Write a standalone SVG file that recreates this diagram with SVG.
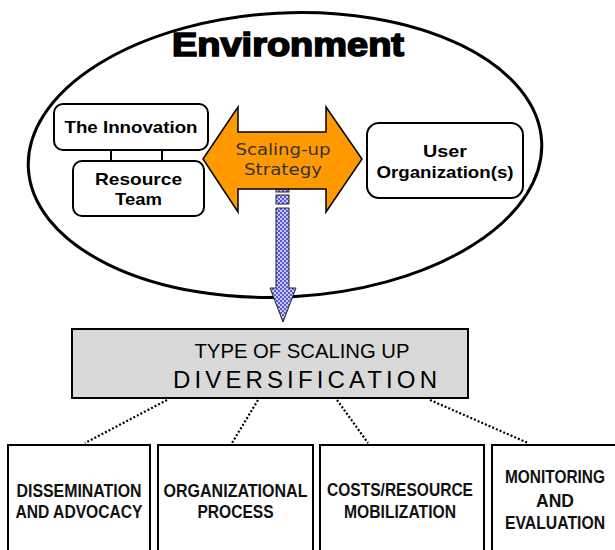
<svg xmlns="http://www.w3.org/2000/svg" width="615" height="550" viewBox="0 0 615 550">
<style>
.box{fill:#fff;stroke:#000;stroke-width:2}
.t1{font-family:"Liberation Sans",Arial,sans-serif;font-weight:bold;font-size:17px;fill:#000;text-anchor:middle}
.t2{font-family:"DejaVu Sans",Verdana,sans-serif;font-size:16px;fill:#333;text-anchor:middle}
.t3{font-family:"Liberation Sans",Arial,sans-serif;font-weight:bold;font-size:18px;fill:#111;text-anchor:middle}
.dot{stroke:#000;stroke-width:2.2;stroke-dasharray:2 2;fill:none}
</style>
<defs>
<pattern id="chk" width="4" height="4" patternUnits="userSpaceOnUse">
<rect width="4" height="4" fill="#c8c8f8"/>
<rect width="2" height="2" fill="#5a5ad0"/>
<rect x="2" y="2" width="2" height="2" fill="#5a5ad0"/>
</pattern>
</defs>
<g id="environment">
<ellipse cx="285" cy="155" rx="257" ry="142" transform="rotate(-3 285 155)" fill="#fff" stroke="#000" stroke-width="3"/>
<text x="288" y="56" font-family="Liberation Sans,Arial,sans-serif" font-weight="900" font-size="33" stroke="#000" stroke-width="1.6" text-anchor="middle" textLength="232" lengthAdjust="spacingAndGlyphs">Environment</text>
</g>
<g id="connectors">
<line x1="111" y1="150" x2="111" y2="161" stroke="#000" stroke-width="2"/>
<line x1="162" y1="150" x2="162" y2="161" stroke="#000" stroke-width="2"/>
<line class="dot" x1="167" y1="400" x2="85" y2="443"/>
<line class="dot" x1="258" y1="400" x2="232" y2="443"/>
<line class="dot" x1="337" y1="400" x2="368" y2="443"/>
<line class="dot" x1="430" y1="400" x2="528" y2="443"/>
</g>
<g id="blue-arrow" stroke="#222" stroke-width="1">
<rect x="276" y="188" width="13" height="4" fill="url(#chk)"/>
<rect x="276" y="195" width="13" height="9" fill="url(#chk)"/>
<path d="M276,208 L289,208 L289,288 L296,288 L283,322 L270,288 L276,288 Z" fill="url(#chk)"/>
</g>
<g id="innovation">
<rect class="box" x="54" y="104" width="154" height="46" rx="9"/>
<text class="t1" x="131" y="133" textLength="133" lengthAdjust="spacingAndGlyphs">The Innovation</text>
</g>
<g id="resource-team">
<rect class="box" x="73" y="161" width="131" height="55" rx="9"/>
<text class="t1" x="138.5" y="185" textLength="87" lengthAdjust="spacingAndGlyphs">Resource</text>
<text class="t1" x="138.5" y="205" textLength="47" lengthAdjust="spacingAndGlyphs">Team</text>
</g>
<g id="strategy">
<path d="M203,159 L238,107 L238,132 L326,132 L326,107 L362,159 L326,212 L326,189 L238,189 L238,212 Z" fill="#ff9900" stroke="#000" stroke-width="1.5"/>
<text class="t2" x="283" y="155" textLength="95" lengthAdjust="spacingAndGlyphs">Scaling-up</text>
<text class="t2" x="283" y="175" textLength="78" lengthAdjust="spacingAndGlyphs">Strategy</text>
</g>
<g id="user-org">
<rect class="box" x="367" y="123" width="156" height="75" rx="12"/>
<text class="t1" x="445" y="157" textLength="44" lengthAdjust="spacingAndGlyphs">User</text>
<text class="t1" x="445" y="178" textLength="137" lengthAdjust="spacingAndGlyphs">Organization(s)</text>
</g>
<g id="type">
<rect x="72" y="329" width="396" height="69" fill="#d9d9d9" stroke="#000" stroke-width="2"/>
<text x="302" y="358" font-family="Liberation Sans,Arial,sans-serif" font-size="21" text-anchor="middle" textLength="215" lengthAdjust="spacingAndGlyphs">TYPE OF SCALING UP</text>
<text x="305" y="388" font-family="Liberation Sans,Arial,sans-serif" font-size="24" text-anchor="middle" textLength="264" lengthAdjust="spacing">DIVERSIFICATION</text>
</g>
<g id="dissemination">
<rect class="box" x="8" y="445" width="142" height="110"/>
<text class="t3" x="79" y="497" textLength="125" lengthAdjust="spacingAndGlyphs">DISSEMINATION</text>
<text class="t3" x="79" y="518" textLength="127" lengthAdjust="spacingAndGlyphs">AND ADVOCACY</text>
</g>
<g id="organizational">
<rect class="box" x="158" y="445" width="155" height="110"/>
<text class="t3" x="235.5" y="497" textLength="144" lengthAdjust="spacingAndGlyphs">ORGANIZATIONAL</text>
<text class="t3" x="235.5" y="518" textLength="76" lengthAdjust="spacingAndGlyphs">PROCESS</text>
</g>
<g id="costs">
<rect class="box" x="320" y="445" width="164" height="110"/>
<text class="t3" x="400" y="496" textLength="146" lengthAdjust="spacingAndGlyphs">COSTS/RESOURCE</text>
<text class="t3" x="400" y="518" textLength="112" lengthAdjust="spacingAndGlyphs">MOBILIZATION</text>
</g>
<g id="monitoring">
<rect class="box" x="492" y="445" width="130" height="110"/>
<text class="t3" x="555" y="483" textLength="100" lengthAdjust="spacingAndGlyphs">MONITORING</text>
<text class="t3" x="555" y="507" textLength="38" lengthAdjust="spacingAndGlyphs">AND</text>
<text class="t3" x="555" y="529" textLength="100" lengthAdjust="spacingAndGlyphs">EVALUATION</text>
</g>
</svg>
